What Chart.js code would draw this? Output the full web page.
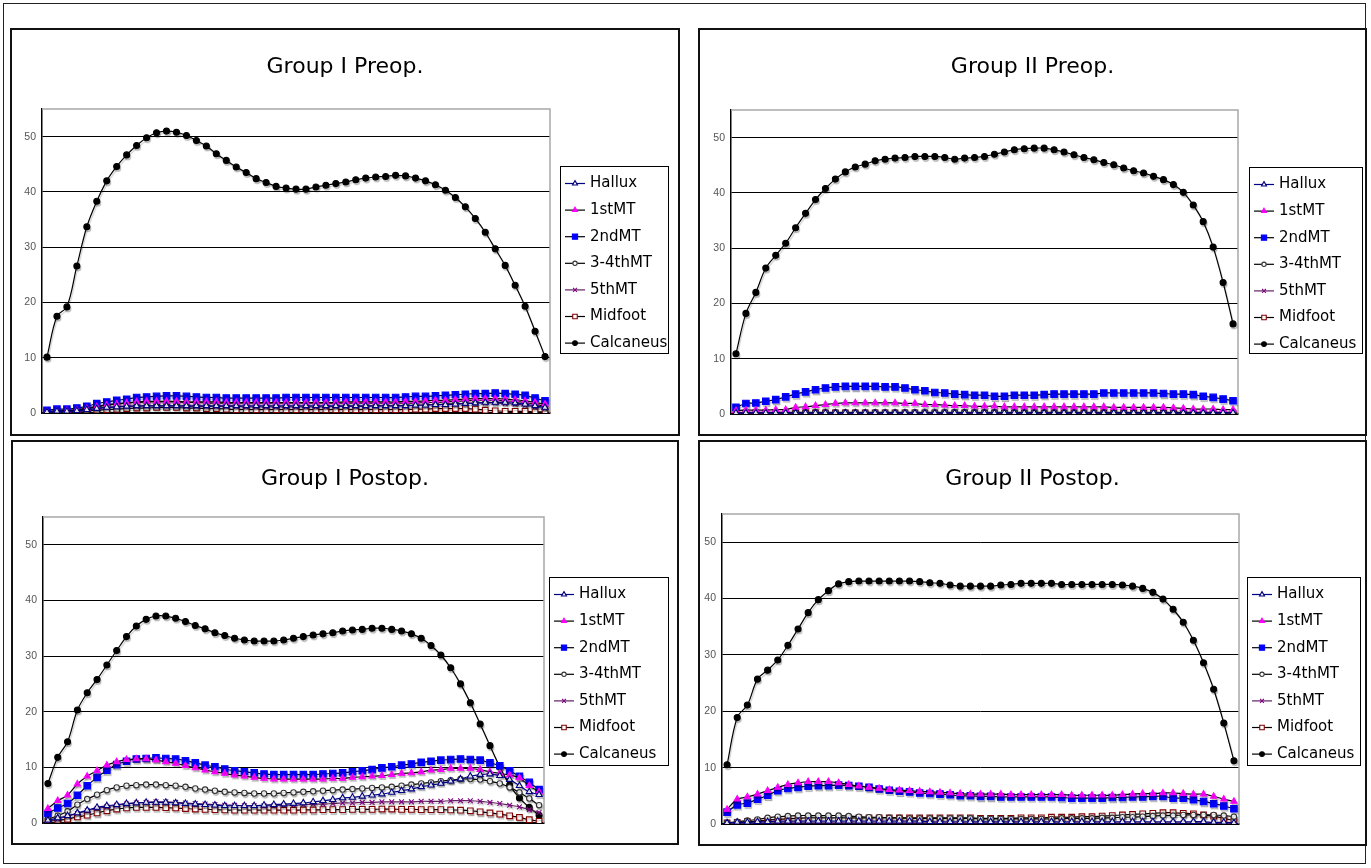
<!DOCTYPE html>
<html>
<head>
  <title>Plantar pressure - Group I / II, preop and postop</title>
  <script src="https://cdn.jsdelivr.net/npm/chart.js"></script>
  <style>
    body { margin: 0; background: #fff; }
    #frame { position: absolute; left: 3px; top: 3px; width: 1363px; height: 861px; border: 1.5px solid #222; box-sizing: border-box; }
    .panel { position: absolute; border: 2px solid #111; box-sizing: border-box; background: #fff; }
    .panel canvas { position: absolute; left: 0; top: 0; }
  </style>
</head>
<body>
  <div id="frame"></div>
  <div class="panel" style="left:10px;top:28px;width:670px;height:408px"><canvas id="c1" width="666" height="404"></canvas></div>
  <div class="panel" style="left:698px;top:28px;width:669px;height:408px"><canvas id="c2" width="665" height="404"></canvas></div>
  <div class="panel" style="left:11px;top:440px;width:668px;height:405px"><canvas id="c3" width="664" height="401"></canvas></div>
  <div class="panel" style="left:698px;top:440px;width:669px;height:406px"><canvas id="c4" width="665" height="402"></canvas></div>

  <script>
    // % of stance phase, 51 samples
    const stance = ['0%','2%','4%','6%','8%','10%','12%','14%','16%','18%',
      '20%','22%','24%','26%','28%','30%','32%','34%','36%','38%',
      '40%','42%','44%','46%','48%','50%','52%','54%','56%','58%',
      '60%','62%','64%','66%','68%','70%','72%','74%','76%','78%',
      '80%','82%','84%','86%','88%','90%','92%','94%','96%','98%','100%'];

    const regions = ['Hallux', '1stMT', '2ndMT', '3-4thMT', '5thMT', 'Midfoot', 'Calcaneus'];

    // ---- Group I Preop.
    const g1PreHallux = [0.2,0.3,0.3,0.4,0.6,0.8,1.0,1.1,1.2,1.3,
      1.3,1.3,1.3,1.3,1.3,1.3,1.3,1.3,1.3,1.3,
      1.3,1.3,1.3,1.3,1.3,1.3,1.3,1.3,1.3,1.3,
      1.3,1.3,1.3,1.3,1.3,1.3,1.3,1.4,1.4,1.5,
      1.5,1.6,1.7,1.8,1.9,1.9,1.9,1.8,1.6,1.3,1.0];
    const g1Pre1st = [0.2,0.3,0.4,0.5,0.8,1.1,1.4,1.6,1.8,2.0,
      2.1,2.1,2.1,2.1,2.0,2.0,2.0,2.0,1.9,1.9,
      1.9,1.9,1.9,1.9,1.9,1.9,1.9,1.9,1.9,1.9,
      2.0,2.0,2.0,2.0,2.0,2.0,2.1,2.1,2.2,2.3,
      2.3,2.4,2.5,2.6,2.6,2.6,2.5,2.4,2.2,1.9,1.6];
    const g1Pre2nd = [0.5,0.7,0.7,0.9,1.2,1.7,2.0,2.3,2.5,2.8,
      2.9,3.0,3.1,3.1,3.0,2.9,2.8,2.8,2.7,2.7,
      2.7,2.7,2.7,2.7,2.8,2.8,2.8,2.8,2.8,2.8,
      2.8,2.8,2.8,2.8,2.8,2.8,2.9,3.0,3.0,3.1,
      3.2,3.3,3.4,3.5,3.5,3.6,3.5,3.4,3.2,2.7,2.2];
    const g1Pre34 = [0.3,0.4,0.5,0.6,0.9,1.2,1.5,1.7,1.8,1.9,
      2.0,2.0,2.0,2.0,1.9,1.9,1.8,1.8,1.8,1.8,
      1.8,1.8,1.8,1.8,1.8,1.8,1.8,1.8,1.8,1.8,
      1.8,1.8,1.8,1.8,1.8,1.8,1.8,1.8,1.9,1.9,
      2.0,2.1,2.2,2.3,2.3,2.3,2.2,2.1,1.9,1.6,1.2];
    const g1Pre5th = [0.1,0.2,0.3,0.4,0.6,0.8,1.0,1.1,1.2,1.2,
      1.3,1.3,1.3,1.3,1.2,1.2,1.2,1.2,1.2,1.2,
      1.1,1.1,1.1,1.1,1.1,1.1,1.1,1.1,1.1,1.2,
      1.2,1.2,1.2,1.3,1.3,1.3,1.4,1.4,1.5,1.5,
      1.6,1.7,1.7,1.8,1.8,1.8,1.7,1.6,1.4,1.1,0.8];
    const g1PreMidfoot = [0.1,0.1,0.2,0.3,0.4,0.5,0.6,0.7,0.8,0.9,
      0.9,1.0,1.0,1.0,0.9,0.9,0.8,0.8,0.7,0.6,
      0.6,0.6,0.6,0.6,0.6,0.6,0.6,0.6,0.6,0.6,
      0.6,0.6,0.6,0.6,0.6,0.6,0.6,0.7,0.7,0.8,
      0.8,0.8,0.8,0.7,0.5,0.4,0.3,0.3,0.3,0.2,0.2];
    const g1PreCalcaneus = [10.1,17.5,19.2,26.6,33.7,38.3,42.0,44.6,46.7,48.4,
      49.8,50.7,51.0,50.8,50.2,49.3,48.3,46.9,45.7,44.5,
      43.5,42.4,41.7,41.0,40.7,40.5,40.5,40.9,41.2,41.5,
      41.8,42.2,42.5,42.7,42.8,43.0,42.9,42.5,42.0,41.3,
      40.3,39.0,37.3,35.2,32.7,29.7,26.7,23.1,19.3,14.8,10.2];

    // ---- Group II Preop.
    const g2PreHallux = [0.2,0.2,0.2,0.2,0.2,0.2,0.2,0.2,0.2,0.2,
      0.2,0.2,0.2,0.2,0.2,0.2,0.2,0.2,0.2,0.2,
      0.2,0.2,0.2,0.2,0.2,0.2,0.2,0.2,0.2,0.2,
      0.2,0.2,0.2,0.2,0.2,0.2,0.2,0.2,0.2,0.2,
      0.2,0.2,0.2,0.2,0.2,0.2,0.2,0.2,0.2,0.2,0.2];
    const g2Pre1st = [0.6,0.7,0.7,0.7,0.8,0.8,1.2,1.3,1.5,1.7,
      1.9,2.0,2.0,2.0,2.0,2.0,2.0,1.9,1.9,1.7,
      1.7,1.6,1.5,1.5,1.4,1.4,1.4,1.3,1.3,1.3,
      1.3,1.3,1.3,1.3,1.3,1.3,1.3,1.3,1.2,1.2,
      1.2,1.2,1.2,1.2,1.1,1.0,0.9,0.9,0.9,0.8,0.8];
    const g2Pre2nd = [1.2,1.9,2.0,2.3,2.6,3.1,3.6,4.0,4.4,4.7,
      4.9,5.0,5.0,5.0,5.0,4.9,4.9,4.7,4.4,4.2,
      3.9,3.8,3.6,3.5,3.4,3.4,3.2,3.2,3.4,3.4,
      3.4,3.5,3.6,3.6,3.6,3.6,3.6,3.8,3.8,3.8,
      3.8,3.8,3.8,3.7,3.6,3.6,3.5,3.2,3.0,2.7,2.4];
    const g2Pre34 = [0.2,0.3,0.3,0.3,0.3,0.3,0.3,0.3,0.3,0.3,
      0.3,0.3,0.3,0.3,0.3,0.3,0.3,0.3,0.3,0.3,
      0.3,0.3,0.3,0.3,0.3,0.3,0.3,0.3,0.3,0.3,
      0.3,0.3,0.3,0.3,0.3,0.3,0.3,0.3,0.3,0.3,
      0.3,0.3,0.3,0.3,0.3,0.3,0.3,0.3,0.3,0.3,0.3];
    const g2Pre5th = [0.1,0.1,0.1,0.1,0.1,0.1,0.1,0.1,0.1,0.1,
      0.1,0.1,0.1,0.1,0.1,0.1,0.1,0.1,0.1,0.1,
      0.1,0.1,0.1,0.1,0.1,0.1,0.1,0.1,0.1,0.1,
      0.1,0.1,0.1,0.1,0.1,0.1,0.1,0.1,0.1,0.1,
      0.1,0.1,0.1,0.1,0.1,0.1,0.1,0.1,0.1,0.1,0.1];
    const g2PreMidfoot = [0.2,0.2,0.2,0.2,0.2,0.2,0.2,0.2,0.2,0.2,
      0.2,0.2,0.2,0.2,0.2,0.2,0.2,0.2,0.2,0.2,
      0.2,0.2,0.2,0.2,0.2,0.2,0.2,0.2,0.2,0.2,
      0.2,0.2,0.2,0.2,0.2,0.2,0.2,0.2,0.2,0.2,
      0.2,0.2,0.2,0.2,0.2,0.2,0.2,0.2,0.2,0.2,0.2];
    const g2PreCalcaneus = [10.9,18.2,22.0,26.4,28.7,30.9,33.7,36.3,38.8,40.8,
      42.5,43.8,44.7,45.2,45.8,46.1,46.3,46.4,46.6,46.6,
      46.6,46.4,46.1,46.3,46.4,46.6,47.0,47.4,47.8,48.0,
      48.1,48.1,47.8,47.4,46.9,46.4,46.0,45.5,45.1,44.5,
      44.0,43.6,43.0,42.4,41.5,40.1,37.8,34.8,30.2,23.8,16.3];

    // ---- Group I Postop.
    const g1PostHallux = [0.5,0.9,1.3,1.8,2.3,2.8,3.1,3.3,3.5,3.6,
      3.7,3.7,3.7,3.6,3.5,3.4,3.3,3.2,3.1,3.1,
      3.1,3.1,3.2,3.3,3.4,3.5,3.6,3.8,4.0,4.2,
      4.5,4.6,4.8,5.0,5.2,5.5,5.8,6.1,6.5,6.8,
      7.1,7.5,7.9,8.4,8.7,8.8,8.5,7.8,6.7,5.6,5.1];
    const g1Post1st = [2.6,4.0,5.0,7.0,8.4,9.4,10.4,11.0,11.4,11.5,
      11.5,11.3,11.0,10.7,10.3,9.9,9.5,9.2,8.9,8.6,
      8.4,8.2,8.0,7.9,7.9,7.9,7.9,7.9,7.9,8.0,
      8.0,8.2,8.3,8.4,8.5,8.7,8.9,9.0,9.2,9.5,
      9.6,9.8,9.8,9.8,9.6,9.2,8.9,8.6,8.1,6.7,5.6];
    const g1Post2nd = [1.7,2.7,3.5,5.0,6.7,8.2,9.5,10.5,11.1,11.5,
      11.6,11.7,11.6,11.5,11.2,10.8,10.4,10.1,9.7,9.4,
      9.2,9.0,8.8,8.7,8.7,8.7,8.7,8.7,8.8,8.9,
      9.0,9.2,9.4,9.6,9.9,10.1,10.4,10.6,10.9,11.1,
      11.3,11.4,11.5,11.4,11.3,10.8,10.3,9.4,8.4,7.3,6.0];
    const g1Post34 = [0.7,1.3,2.1,3.3,4.3,5.1,5.9,6.4,6.7,6.8,
      6.9,6.9,6.8,6.7,6.5,6.2,6.0,5.8,5.6,5.5,
      5.4,5.3,5.3,5.3,5.4,5.5,5.6,5.7,5.8,5.9,
      6.0,6.1,6.2,6.3,6.4,6.5,6.7,6.9,7.1,7.3,
      7.5,7.7,7.9,7.9,7.8,7.5,7.1,6.4,5.5,4.4,3.2];
    const g1Post5th = [0.3,0.7,1.2,1.7,2.2,2.6,2.9,3.2,3.4,3.6,
      3.7,3.8,3.8,3.7,3.6,3.5,3.4,3.3,3.2,3.2,
      3.1,3.1,3.1,3.1,3.2,3.2,3.3,3.4,3.4,3.5,
      3.6,3.6,3.7,3.7,3.8,3.8,3.8,3.8,3.9,3.9,
      3.9,4.0,4.0,4.0,3.9,3.7,3.5,3.2,2.9,2.4,1.9];
    const g1PostMidfoot = [0.3,0.5,0.7,1.1,1.4,1.8,2.2,2.5,2.7,2.8,
      2.8,2.8,2.75,2.7,2.6,2.5,2.45,2.4,2.35,2.3,
      2.3,2.3,2.3,2.3,2.3,2.3,2.35,2.35,2.4,2.4,
      2.4,2.45,2.45,2.45,2.5,2.5,2.45,2.45,2.4,2.4,
      2.4,2.35,2.3,2.2,2.0,1.8,1.6,1.3,1.0,0.6,0.3];
    const g1PostCalcaneus = [7.1,11.8,14.6,20.3,23.4,25.8,28.4,31.0,33.5,35.4,
      36.6,37.2,37.2,36.8,36.2,35.5,34.9,34.2,33.7,33.2,
      32.9,32.7,32.7,32.7,32.9,33.2,33.5,33.8,34.0,34.2,
      34.5,34.7,34.8,35.0,35.0,34.8,34.5,34.0,33.2,31.9,
      30.2,27.9,25.0,21.6,17.8,13.9,10.1,6.8,4.5,2.8,1.4];

    // ---- Group II Postop.
    const g2PostHallux = [0.2,0.3,0.3,0.4,0.4,0.5,0.5,0.5,0.5,0.5,
      0.5,0.5,0.5,0.5,0.5,0.5,0.5,0.5,0.5,0.5,
      0.4,0.4,0.4,0.4,0.4,0.4,0.4,0.4,0.4,0.4,
      0.4,0.4,0.4,0.4,0.4,0.4,0.4,0.4,0.4,0.4,
      0.4,0.4,0.4,0.4,0.4,0.4,0.4,0.4,0.3,0.3,0.2];
    const g2Post1st = [2.6,4.4,4.8,5.3,5.9,6.5,7.0,7.3,7.5,7.5,
      7.5,7.3,7.0,6.7,6.5,6.3,6.1,6.0,5.9,5.8,
      5.7,5.6,5.5,5.4,5.3,5.3,5.3,5.3,5.2,5.2,
      5.2,5.2,5.2,5.2,5.1,5.1,5.1,5.1,5.1,5.2,
      5.3,5.4,5.4,5.5,5.5,5.4,5.3,5.3,4.9,4.4,4.0];
    const g2Post2nd = [2.1,3.4,3.7,4.4,5.1,5.9,6.3,6.5,6.7,6.8,
      6.8,6.9,6.8,6.7,6.5,6.2,6.0,5.8,5.7,5.5,
      5.4,5.3,5.2,5.0,5.0,4.9,4.9,4.8,4.8,4.8,
      4.8,4.8,4.8,4.7,4.6,4.6,4.6,4.6,4.7,4.7,
      4.8,4.8,4.9,4.9,4.6,4.6,4.3,4.0,3.6,3.2,2.7];
    const g2Post34 = [0.2,0.4,0.6,0.8,1.1,1.3,1.4,1.5,1.5,1.5,
      1.5,1.5,1.4,1.3,1.2,1.2,1.1,1.1,1.0,1.0,
      1.0,1.0,1.0,1.0,1.0,0.9,0.9,0.9,0.9,0.9,
      0.9,0.9,0.9,1.0,1.0,1.0,1.0,1.1,1.1,1.2,
      1.2,1.3,1.4,1.5,1.5,1.6,1.6,1.6,1.6,1.5,1.3];
    const g2Post5th = [0.1,0.1,0.1,0.2,0.2,0.2,0.2,0.2,0.2,0.2,
      0.2,0.2,0.2,0.2,0.2,0.2,0.2,0.2,0.2,0.2,
      0.2,0.2,0.2,0.2,0.2,0.2,0.2,0.2,0.2,0.2,
      0.2,0.2,0.2,0.2,0.2,0.2,0.2,0.2,0.2,0.2,
      0.2,0.2,0.2,0.2,0.2,0.2,0.2,0.2,0.2,0.1,0.1];
    const g2PostMidfoot = [0.2,0.3,0.4,0.5,0.7,0.8,0.9,1.0,1.1,1.1,
      1.1,1.1,1.1,1.1,1.1,1.1,1.1,1.1,1.1,1.1,
      1.1,1.1,1.1,1.1,1.1,1.0,1.0,1.0,1.0,1.1,
      1.1,1.1,1.2,1.2,1.2,1.3,1.3,1.4,1.5,1.6,
      1.7,1.8,1.9,2.0,2.0,1.9,1.8,1.6,1.4,1.0,0.6];
    const g2PostCalcaneus = [10.5,18.9,21.1,25.7,27.3,29.1,31.7,34.6,37.5,39.8,
      41.4,42.6,43.0,43.1,43.1,43.1,43.1,43.1,43.1,43.0,
      42.8,42.7,42.4,42.2,42.2,42.2,42.2,42.4,42.5,42.7,
      42.7,42.7,42.7,42.5,42.5,42.5,42.5,42.5,42.5,42.4,
      42.2,41.8,41.1,39.9,38.1,35.8,32.6,28.6,23.9,17.9,11.2];

    // Excel-like marker/line styles per region
    const styles = [
      { line: '#000080', shape: 'triangle', r: 3.6, stroke: '#000080', fill: '#ffffff' },
      { line: '#000000', shape: 'triangle', r: 3.6, stroke: '#ff00ff', fill: '#ff00ff' },
      { line: '#000000', shape: 'rect',     r: 4.6, stroke: '#0000ff', fill: '#0000ff' },
      { line: '#000000', shape: 'circle',   r: 2.7, stroke: '#333333', fill: '#ffffff' },
      { line: '#602060', shape: 'crossRot', r: 3.4, stroke: '#800080', fill: '#800080' },
      { line: '#000000', shape: 'rect',     r: 4.0, stroke: '#800000', fill: '#ffffff' },
      { line: '#000000', shape: 'circle',   r: 3.0, stroke: '#000000', fill: '#000000' }
    ];

    const panels = [
      { id: 'c1', title: 'Group I Preop.',
        series: [g1PreHallux, g1Pre1st, g1Pre2nd, g1Pre34, g1Pre5th, g1PreMidfoot, g1PreCalcaneus],
        yW: 30, padR: 128, top: 79, xH: 21, legend: { x: 548, y: 136, w: 108, h: 187 } },
      { id: 'c2', title: 'Group II Preop.',
        series: [g2PreHallux, g2Pre1st, g2Pre2nd, g2Pre34, g2Pre5th, g2PreMidfoot, g2PreCalcaneus],
        yW: 31, padR: 127, top: 80, xH: 20, legend: { x: 549, y: 137, w: 113, h: 186 } },
      { id: 'c3', title: 'Group I Postop.',
        series: [g1PostHallux, g1Post1st, g1Post2nd, g1Post34, g1Post5th, g1PostMidfoot, g1PostCalcaneus],
        yW: 30, padR: 133, top: 75, xH: 20, legend: { x: 536, y: 135, w: 119, h: 188 } },
      { id: 'c4', title: 'Group II Postop.',
        series: [g2PostHallux, g2Post1st, g2Post2nd, g2Post34, g2Post5th, g2PostMidfoot, g2PostCalcaneus],
        yW: 22, padR: 126, top: 72, xH: 20, legend: { x: 547, y: 135, w: 113, h: 188 } }
    ];

    function drawMarker(ctx, st, x, y, r) {
      ctx.fillStyle = st.fill;
      ctx.strokeStyle = st.stroke;
      ctx.lineWidth = 1.1;
      Chart.helpers.drawPoint(ctx, { pointStyle: st.shape, radius: r, rotation: 0, borderWidth: 1.1 }, x, y);
    }

    // thin gray frame on top/right of the plot, like the Excel plot area
    const plotFrame = {
      id: 'plotFrame',
      beforeDatasetsDraw(chart) {
        const { left, right, top, bottom } = chart.chartArea;
        const ctx = chart.ctx;
        ctx.save();
        ctx.strokeStyle = '#a8a8a8';
        ctx.lineWidth = 1.5;
        ctx.beginPath();
        ctx.moveTo(left, top);
        ctx.lineTo(right, top);
        ctx.lineTo(right, bottom);
        ctx.stroke();
        ctx.restore();
      }
    };

    // soft drop shadow under the lines
    const lineShadow = {
      id: 'lineShadow',
      beforeDatasetsDraw(chart) {
        const ctx = chart.ctx;
        ctx.save();
        ctx.shadowColor = 'rgba(0,0,0,0.2)';
        ctx.shadowOffsetX = 1;
        ctx.shadowOffsetY = 2;
        ctx.shadowBlur = 1;
      },
      afterDatasetsDraw(chart) {
        chart.ctx.restore();
      }
    };

    // boxed legend with line + marker samples
    const boxLegend = {
      id: 'boxLegend',
      afterDraw(chart, args, opts) {
        const ctx = chart.ctx;
        ctx.save();
        ctx.strokeStyle = '#000';
        ctx.lineWidth = 1;
        ctx.strokeRect(opts.x + 0.5, opts.y + 0.5, opts.w, opts.h);
        ctx.font = '15px "DejaVu Sans"';
        ctx.textBaseline = 'middle';
        chart.data.datasets.forEach((ds, i) => {
          const st = styles[i];
          const y = opts.y + 17.5 + i * 26.6;
          const x0 = opts.x + 5;
          ctx.strokeStyle = st.line;
          ctx.lineWidth = 1.2;
          ctx.beginPath();
          ctx.moveTo(x0, y);
          ctx.lineTo(x0 + 20, y);
          ctx.stroke();
          drawMarker(ctx, st, x0 + 10, y, st.r * 0.8);
          ctx.fillStyle = '#000';
          ctx.fillText(ds.label, opts.x + 30, y);
        });
        ctx.restore();
      }
    };

    Chart.defaults.font.family = '"DejaVu Sans"';

    panels.forEach(p => {
      const datasets = regions.map((name, i) => ({
        label: name,
        data: p.series[i],
        borderColor: styles[i].line,
        borderWidth: 1.2,
        tension: 0.35,
        pointStyle: styles[i].shape,
        pointRadius: styles[i].r,
        pointBorderColor: styles[i].stroke,
        pointBackgroundColor: styles[i].fill,
        pointBorderWidth: 1.1,
        fill: false
      }));

      new Chart(document.getElementById(p.id), {
        type: 'line',
        data: { labels: stance, datasets: datasets },
        plugins: [plotFrame, lineShadow, boxLegend],
        options: {
          responsive: false,
          animation: false,
          layout: { padding: 0 },
          plugins: {
            legend: { display: false },
            tooltip: { enabled: false },
            title: {
              display: true,
              text: p.title,
              color: '#000',
              font: { family: '"DejaVu Sans"', size: 22, weight: 'normal', lineHeight: 1.2 },
              padding: { top: 23.8, bottom: p.top - 50.2 }
            },
            boxLegend: p.legend
          },
          scales: {
            x: {
              offset: true,
              afterFit(s) { s.height = p.xH; },
              ticks: { display: false },
              grid: { display: false, drawTicks: false },
              border: { color: '#000', width: 1.5 }
            },
            y: {
              min: 0,
              max: 55,
              afterFit(s) { s.width = p.yW; },
              ticks: {
                stepSize: 10,
                includeBounds: false,
                padding: 6,
                color: '#555',
                font: { family: '"Liberation Sans"', size: 10.5 }
              },
              grid: { color: '#000', lineWidth: 1, drawTicks: false },
              border: { color: '#000', width: 1.5 }
            },
            // empty right-hand axis that only reserves room for the boxed legend
            legendRoom: {
              type: 'linear',
              position: 'right',
              display: true,
              min: 0,
              max: 55,
              afterFit(s) { s.width = p.padR; },
              ticks: { display: false },
              grid: { display: false, drawTicks: false },
              border: { display: false }
            }
          }
        }
      });
    });
  </script>
</body>
</html>
